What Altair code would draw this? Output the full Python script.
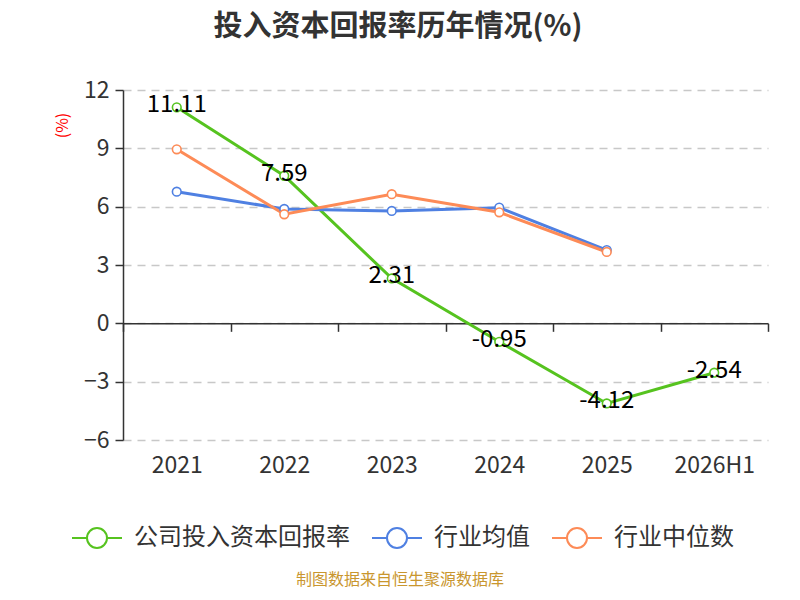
import altair as alt
import pandas as pd

years = ["2021", "2022", "2023", "2024", "2025", "2026H1"]
company = [11.11, 7.59, 2.31, -0.95, -4.12, -2.54]
ind_mean = [6.77, 5.88, 5.78, 5.95, 3.77]
ind_median = [8.95, 5.61, 6.64, 5.71, 3.67]
series_names = ["公司投入资本回报率", "行业均值", "行业中位数"]
colors = ["#56c31f", "#4f80e2", "#fd8b57"]
y_ticks = [-6, -3, 0, 3, 6, 9, 12]

rows = []
for name, vals in zip(series_names, [company, ind_mean, ind_median]):
    for i, v in enumerate(vals):
        rows.append({"year": years[i], "value": v, "series": name, "order": i})
df = pd.DataFrame(rows)
df_company = df[df["series"] == series_names[0]].copy()
df_company["label"] = df_company["value"].map(lambda v: f"{v:.2f}")

FONT = "Noto Sans CJK SC"

x_enc = alt.X(
    "year:N",
    sort=years,
    bandPosition=0.5,
    scale=alt.Scale(type="band", domain=years, paddingInner=0, paddingOuter=0),
    axis=alt.Axis(
        title=None,
        offset=-116.67,
        domain=True,
        domainColor="#333333",
        domainWidth=1.5,
        ticks=True,
        tickBand="extent",
        tickSize=8,
        tickColor="#333333",
        tickWidth=1.5,
        labelAngle=0,
        labelFont=FONT,
        labelFontSize=23,
        labelColor="#333333",
        labelPadding=123,
        grid=False,
    ),
)
y_enc = alt.Y(
    "value:Q",
    scale=alt.Scale(domain=[-6, 12], nice=False, zero=False),
    axis=alt.Axis(
        values=y_ticks,
        title="(%)",
        titleColor="#ff0000",
        titleFont=FONT,
        titleFontSize=16,
        titleFontWeight="normal",
        titleX=-61,
        titleY=35,
        titleAlign="center",
        titleBaseline="middle",
        domain=True,
        domainColor="#333333",
        domainWidth=1.5,
        tickSize=8,
        tickColor="#333333",
        tickWidth=1.5,
        labelFont=FONT,
        labelFontSize=23,
        labelColor="#333333",
        labelPadding=6,
        grid=True,
        gridColor="#c8c8c8",
        gridDash=[8, 6],
        gridWidth=1.5,
    ),
)
color_enc = alt.Color(
    "series:N",
    sort=series_names,
    scale=alt.Scale(domain=series_names, range=colors),
    legend=alt.Legend(
        title=None,
        orient="none",
        direction="horizontal",
        legendX=-52,
        legendY=422,
        symbolType="M-1,0L-0.4,0M0.4,0L1,0M-0.4,0A0.4,0.4,0,1,1,0.4,0A0.4,0.4,0,1,1,-0.4,0",
        symbolSize=2500,
        symbolStrokeWidth=2,
        symbolFillColor="white",
        labelFont=FONT,
        labelFontSize=24,
        labelColor="#333333",
        labelOffset=11,
        labelLimit=0,
        columnPadding=18,
    ),
)

base = alt.Chart(df).encode(x=x_enc, y=y_enc, color=color_enc, order="order:Q")
lines = base.mark_line(strokeWidth=3)
points = base.mark_point(filled=False, fill="white", fillOpacity=1, size=75, strokeWidth=1.6, opacity=1)

labels = alt.Chart(df_company).mark_text(
    font=FONT, fontSize=24, color="#000000", align="center", baseline="middle", dy=-2
).encode(x=alt.X("year:N", sort=years, bandPosition=0.5), y="value:Q", text="label:N")

ann = pd.DataFrame({"t": ["投入资本回报率历年情况(%)"]})
title = alt.Chart(ann).mark_text(
    font=FONT, fontSize=29, fontWeight="bold", color="#333333", align="center", baseline="middle"
).encode(x=alt.value(275), y=alt.value(-63), text="t:N")

src = pd.DataFrame({"t": ["制图数据来自恒生聚源数据库"]})
source = alt.Chart(src).mark_text(
    font=FONT, fontSize=16, color="#c9962e", align="center", baseline="middle"
).encode(x=alt.value(277), y=alt.value(490), text="t:N")

chart = alt.layer(lines, points, labels, title, source).properties(
    width=645,
    height=350,
    background="white",
    autosize=alt.AutoSizeParams(type="none"),
    padding={"left": 115, "top": 82, "right": 24, "bottom": 152},
).configure_view(stroke=None)

chart.save("out.html", embed_options={"renderer": "svg", "actions": False})
